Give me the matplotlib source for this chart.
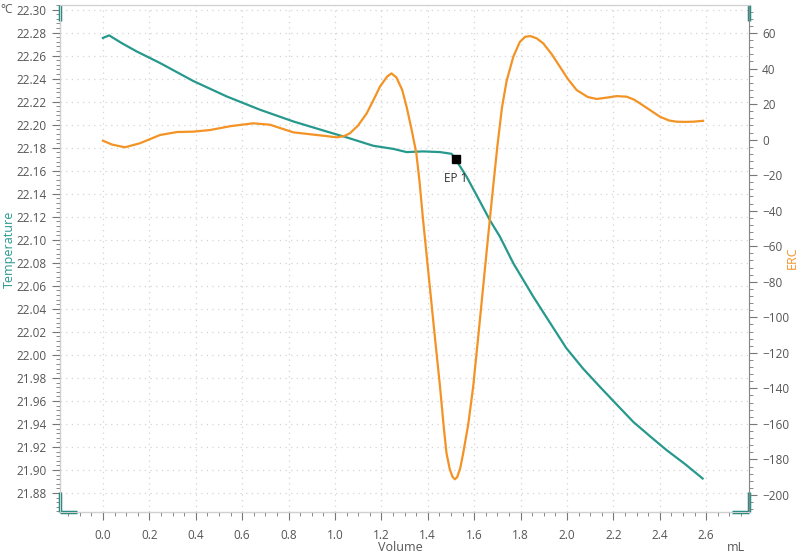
import numpy as np
import matplotlib
matplotlib.use("Agg")
import matplotlib.pyplot as plt
from matplotlib.ticker import MultipleLocator, FormatStrFormatter

plt.rcParams['font.family'] = ['Open Sans', 'DejaVu Sans']

# temperature curve (volume mL, °C)
vol_t = [0.0, 0.027, 0.08, 0.145, 0.246, 0.389, 0.533, 0.677, 0.821, 0.964,
         1.05, 1.165, 1.251, 1.309, 1.38, 1.453, 1.503, 1.52, 1.567, 1.618,
         1.668, 1.711, 1.769, 1.855, 1.93, 1.998, 2.07, 2.142, 2.214, 2.286,
         2.36, 2.43, 2.51, 2.585]
temp = [22.2754, 22.2776, 22.2710, 22.2637, 22.2536, 22.2380, 22.2246, 22.2130, 22.2028, 22.1941,
        22.1890, 22.1817, 22.1790, 22.1762, 22.1768, 22.1762, 22.1747, 22.1700, 22.1550, 22.1360,
        22.1170, 22.1028, 22.0796, 22.0506, 22.0270, 22.0057, 21.9880, 21.9723, 21.9570, 21.9418,
        21.9290, 21.9172, 21.9050, 21.8926]

# ERC curve
vol_e = [0.0, 0.04, 0.095, 0.16, 0.246, 0.32, 0.389, 0.461, 0.55, 0.648, 0.72,
         0.821, 0.964, 1.007, 1.04, 1.065, 1.10, 1.137, 1.165, 1.194, 1.225, 1.244,
         1.265, 1.29, 1.309, 1.33, 1.351, 1.365, 1.38, 1.409, 1.43, 1.453, 1.47,
         1.481, 1.495, 1.507, 1.517, 1.527, 1.54, 1.553, 1.575, 1.596, 1.62,
         1.639, 1.66, 1.682, 1.70, 1.72, 1.74, 1.769, 1.797, 1.82, 1.843, 1.87, 1.898,
         1.935, 1.97, 2.005, 2.042, 2.09, 2.128, 2.18, 2.214, 2.257, 2.29, 2.315,
         2.36, 2.401, 2.44, 2.473, 2.51, 2.544, 2.587]
erc = [-0.6, -2.8, -4.3, -2.0, 2.6, 4.3, 4.5, 5.4, 7.6, 9.2, 8.4,
       4.1, 2.0, 1.3, 2.0, 3.6, 8.0, 14.8, 22.0, 29.8, 35.5, 37.3,
       35.0, 28.0, 18.5, 6.0, -7.7, -24.0, -45.2, -82.8, -110.0, -139.0, -163.0,
       -176.5, -185.5, -189.8, -191.2, -190.0, -185.0, -176.5, -160.0, -139.0, -108.0,
       -82.8, -55.0, -26.5, -4.0, 18.0, 33.0, 46.7, 55.0, 57.9, 58.3, 57.0, 54.2,
       48.0, 41.0, 34.0, 27.9, 24.0, 22.9, 23.8, 24.5, 24.2, 22.5, 20.4,
       16.5, 12.9, 10.8, 10.1, 10.0, 10.1, 10.6]

ep_vol = 1.52
ep_temp = 22.170

teal = '#26998c'
orange = '#f39325'
txt = '#555555'

fig = plt.figure(figsize=(8, 5.55), dpi=100)
ax = fig.add_axes([0.075, 0.0775, 0.861, 0.9135])
ax2 = ax.twinx()

ax.plot(vol_t, temp, color=teal, lw=1.6, zorder=3)
ax2.plot(vol_e, erc, color=orange, lw=1.6, zorder=2)
ax.plot([ep_vol], [ep_temp], 's', color='black', ms=6, zorder=5)
ax.annotate('EP 1', (ep_vol, ep_temp), xytext=(0, -9), textcoords='offset points',
            ha='center', va='top', fontsize=8.5, color='#333333', zorder=6)

ax.set_xlim(-0.185, 2.784)
ax.set_ylim(21.8635, 22.304)
ax2.set_ylim(-209.6, 75.8)

ax.xaxis.set_minor_locator(MultipleLocator(0.05))
ax.xaxis.set_major_formatter(FormatStrFormatter('%.1f'))
ax.yaxis.set_major_locator(MultipleLocator(0.02))
ax.yaxis.set_minor_locator(MultipleLocator(0.004))
ax.yaxis.set_major_formatter(FormatStrFormatter('%.2f'))
ax2.yaxis.set_major_locator(MultipleLocator(20))
ax2.yaxis.set_minor_locator(MultipleLocator(4))
ax.set_xticks([round(0.2 * i, 1) for i in range(14)])

ax.grid(True, which='major', color='#d4d4d4', linestyle=(0, (1, 3.5)), lw=0.9)
ax.set_axisbelow(True)

for a in (ax, ax2):
    for s in a.spines.values():
        s.set_color('#d0d0d0')
    a.tick_params(which='both', colors='#777777', labelcolor=txt, labelsize=8.5)
    a.tick_params(which='major', length=6)
    a.tick_params(which='minor', length=3)
ax.spines['left'].set_color('#888888')
ax.spines['bottom'].set_color('#888888')
ax2.spines['right'].set_color('#888888')
ax.tick_params(axis='x', pad=6)

fig.text(0.5, 0.0135, 'Volume', ha='center', va='center', fontsize=9, color=txt)
fig.text(0.92, 0.0135, 'mL', ha='center', va='center', fontsize=9, color=txt)
fig.text(0.001, 0.982, '°C', ha='left', va='center', fontsize=8.5, color=txt)
fig.text(0.012, 0.55, 'Temperature', rotation=90, ha='center', va='center',
         fontsize=9, color=teal)
fig.text(0.99, 0.535, 'ERC', rotation=90, ha='center', va='center',
         fontsize=9, color=orange)

# green range handles on the axes ends
kw = dict(transform=ax.transAxes, clip_on=False, color='#1e8c7e', lw=2.5, solid_capstyle='butt')
ax.plot([0, 0], [0.968, 1.0], **kw)
ax.plot([0, 0], [0.0, 0.04], **kw)
ax.plot([0, 0.024], [0.0, 0.0], **kw)
ax.plot([1, 1], [0.968, 1.0], **kw)
ax.plot([1, 1], [0.0, 0.04], **kw)
ax.plot([0.976, 1], [0.0, 0.0], **kw)

fig.savefig('out.png', dpi=100)
